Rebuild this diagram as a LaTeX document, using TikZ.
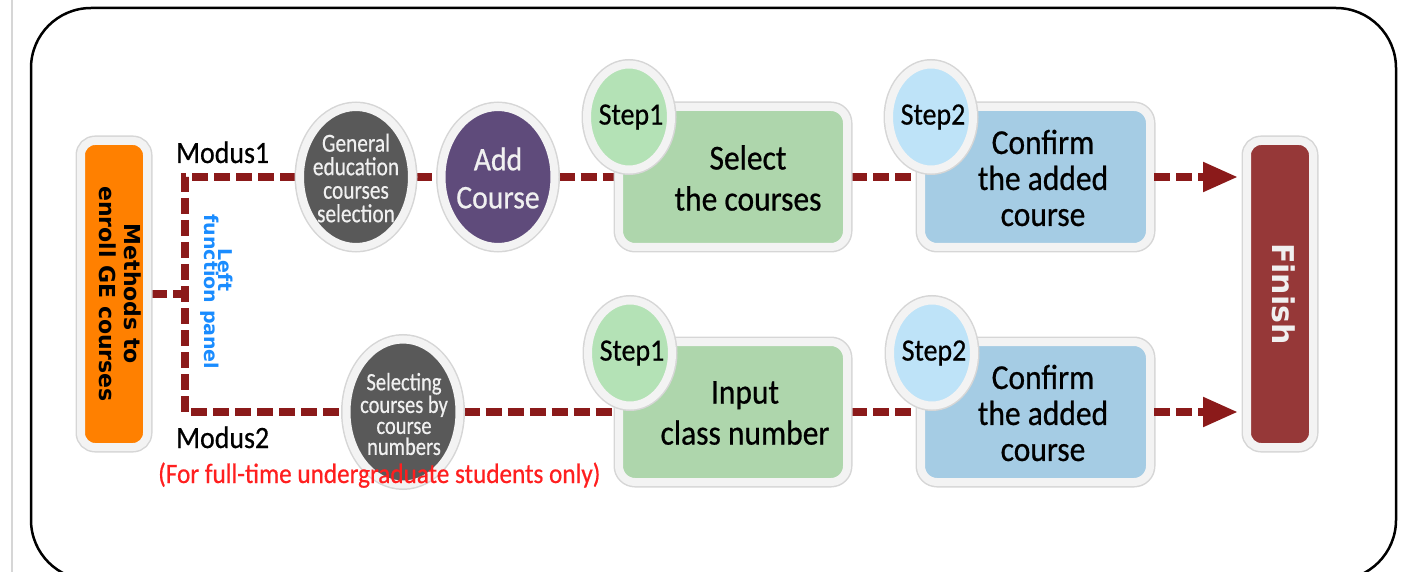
\documentclass[tikz,border=0pt]{standalone}
\usepackage{fontspec}
\setmainfont{Carlito}
\newfontfamily\calf[FakeStretch=0.9,FakeBold=0.6]{Carlito}
\newfontfamily\calg[FakeStretch=0.82,FakeBold=0.5]{Carlito}
\newfontfamily\dvs{DejaVu Sans}
\newfontfamily\dvsb{DejaVu Sans Bold}
\newcommand\fsz[2]{\fontsize{#1}{#2}\selectfont}
\usetikzlibrary{shapes.geometric,arrows.meta,backgrounds}
\definecolor{dred}{HTML}{8B1A1A}
\definecolor{orangec}{HTML}{FF8000}
\definecolor{ggray}{HTML}{595959}
\definecolor{purp}{HTML}{5F4B7B}
\definecolor{boxgreen}{HTML}{AED6AC}
\definecolor{stepgreen}{HTML}{B4E2B6}
\definecolor{boxblue}{HTML}{A5CCE4}
\definecolor{stepblue}{HTML}{BEE3F8}
\definecolor{finred}{HTML}{963838}
\definecolor{haloring}{HTML}{F3F3F3}
\definecolor{haloedge}{HTML}{D6D6D6}
\definecolor{panelblue}{HTML}{1A8CFF}
\definecolor{notered}{HTML}{FF1F1F}
\definecolor{lighttxt}{HTML}{F0F0F0}
\begin{document}
\begin{tikzpicture}[x=1pt,y=-1pt,
  halo/.style={preaction={draw=haloedge,line width=11pt}, draw=haloring, line width=8pt},
  oval/.style={ellipse, halo, inner sep=0pt},
  rbox/.style={rectangle, rounded corners=16pt, halo, inner sep=0pt},
  conn/.style={draw=dred, line width=8pt, dash pattern=on 16pt off 6pt},
  tip/.style={-{Triangle[length=35pt,width=28pt]}, shorten >=5pt},
  txt/.style={inner sep=0pt, align=center},
  boxtxt/.style={txt, font={\calf\fsz{35}{41}}},
  steptxt/.style={txt, font={\calf\fsz{31}{34}}},
]
\useasboundingbox (0,0) rectangle (1401,572);
\draw[draw=haloedge, line width=2pt] (12,0) -- (12,572);
\draw[line width=2.5pt, rounded corners=60pt] (31,8) rectangle (1396,580);

% left block
\node[rbox, fill=orangec, minimum width=66pt, minimum height=306pt, rounded corners=14pt] (mth) at (114,294) {};
\node[txt, rotate=-90, font={\dvsb\fsz{22}{25}}] (mtht) at (120,294) {Methods to\\enroll GE courses};

% finish
\node[rbox, fill=finred, minimum width=66pt, minimum height=306pt, rounded corners=14pt] (fin) at (1280,294) {};
\node[txt, rotate=-90, text=lighttxt, font={\dvsb\fsz{30}{34}}] (fint) at (1284,294) {Finish};

% top row
\node[oval, fill=ggray, minimum width=112pt, minimum height=140pt] (gen) at (356,177) {};
\node[txt, text=lighttxt, font={\calg\fsz{26}{23.5}}] (gent) at (356,178) {General\\education\\courses\\selection};
\node[oval, fill=purp, minimum width=113pt, minimum height=140pt] (add) at (498,177) {};
\node[txt, text=lighttxt, font={\calf\fsz{33}{38}}] (addt) at (498,178) {Add\\Course};
\node[rbox, fill=boxgreen, minimum width=228pt, minimum height=140pt] (box1) at (733,177) {};
\node[boxtxt] (box1t) at (748,178) {Select\\the courses};
\node[rbox, fill=boxblue, minimum width=229pt, minimum height=140pt] (box2) at (1035.5,177) {};
\node[boxtxt, font={\calf\fsz{35}{36}}] (box2t) at (1043,178) {Confirm\\the added\\course};
\node[oval, fill=stepgreen, minimum width=84pt, minimum height=105pt] (s1a) at (629,117) {};
\node[steptxt] (s1at) at (631,117) {Step1};
\node[oval, fill=stepblue, minimum width=84pt, minimum height=105pt] (s2a) at (931,117) {};
\node[steptxt] (s2at) at (933,117) {Step2};

% bottom row
\node[oval, fill=ggray, minimum width=113pt, minimum height=145pt] (sel) at (403,412) {};
\node[txt, text=lighttxt, font={\calg\fsz{25}{21}}] (selt) at (404,414) {Selecting\\courses by\\course\\numbers};
\node[rbox, fill=boxgreen, minimum width=228pt, minimum height=140pt] (box3) at (733,412) {};
\node[boxtxt] (box3t) at (745,413) {Input\\class number};
\node[rbox, fill=boxblue, minimum width=229pt, minimum height=140pt] (box4) at (1035.5,412) {};
\node[boxtxt, font={\calf\fsz{35}{36}}] (box4t) at (1043,413) {Confirm\\the added\\course};
\node[oval, fill=stepgreen, minimum width=84pt, minimum height=105pt] (s1b) at (630,353) {};
\node[steptxt] (s1bt) at (632,353) {Step1};
\node[oval, fill=stepblue, minimum width=84pt, minimum height=105pt] (s2b) at (932,353) {};
\node[steptxt] (s2bt) at (934,353) {Step2};

% labels
\node[txt, anchor=base west, font={\calf\fsz{31}{34}}] (mod1) at (176,163) {Modus1};
\node[txt, anchor=base west, font={\calf\fsz{31}{34}}] (mod2) at (176,448) {Modus2};
\node[txt, anchor=base west, text=notered, font={\calf\fsz{28}{30}}] (note) at (158,483) {(For full-time undergraduate students only)};
\node[txt, rotate=-90, text=panelblue, font={\dvsb\fsz{19}{20}}] (lp1) at (226,270) {Left};
\node[txt, rotate=-90, text=panelblue, font={\dvsb\fsz{19}{20}}] (lp2) at (210,292) {function panel};

% connectors
\coordinate (j1) at (185,177);
\coordinate (j2) at (185,412);
\coordinate (jm) at (185,294);
\begin{scope}[on background layer]
\draw[conn] (mth) -- (jm);
\draw[conn] (gen) -- (j1) -- (j2) -- (sel);
\draw[conn] (gen) -- (add);
\draw[conn] (add) -- (box1);
\draw[conn] (box1) -- (box2);
\draw[conn] (sel) -- (box3);
\draw[conn] (box3) -- (box4);
\end{scope}
\draw[conn, tip] (box2.east) -- (box2.east -| fin.west);
\draw[conn, tip] (box4.east) -- (box4.east -| fin.west);
\end{tikzpicture}
\end{document}
